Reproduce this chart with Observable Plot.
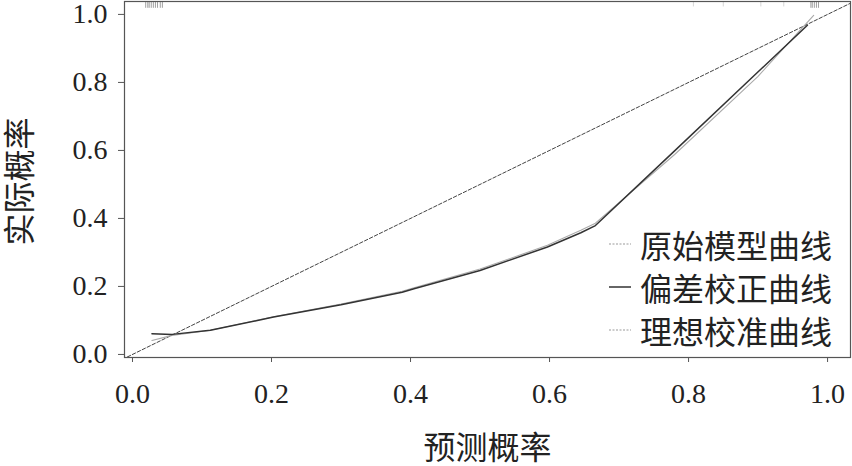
<!DOCTYPE html>
<html>
<head>
<meta charset="utf-8">
<script src="https://cdn.jsdelivr.net/npm/d3@7"></script>
<script src="https://cdn.jsdelivr.net/npm/@observablehq/plot@0.6"></script>
<style>
  html, body { margin: 0; padding: 0; background: #fff; }
  #wrap { position: relative; width: 852px; height: 466px; }
  #wrap svg text { font-family: "Liberation Serif", "Noto Sans CJK SC", serif; }
  #legend { position: absolute; left: 608px; top: 222px; font-family: "Liberation Serif", "Noto Sans CJK SC", serif; font-size: 32px; color: #222; }
  #legend .row { display: flex; align-items: center; height: 43px; }
  #legend svg { margin-right: 8px; }
</style>
</head>
<body>
<div id="wrap"><div id="legend"></div></div>
<script>
// Tick values
const ticks = [0, 0.2, 0.4, 0.6, 0.8, 1.0];

// Bias-corrected calibration curve (偏差校正曲线)
const biasX = [0.028, 0.057, 0.112, 0.203, 0.300, 0.388, 0.405, 0.500, 0.597, 0.645, 0.666, 0.778, 0.899, 0.971];
const biasY = [0.061, 0.059, 0.071, 0.110, 0.146, 0.183, 0.193, 0.247, 0.316, 0.358, 0.379, 0.595, 0.829, 0.968];

// Apparent (original model) curve (原始模型曲线)
const appX = [0.028, 0.057, 0.112, 0.203, 0.300, 0.388, 0.405, 0.500, 0.597, 0.645, 0.666, 0.780, 0.900, 0.980];
const appY = [0.041, 0.056, 0.071, 0.111, 0.148, 0.186, 0.196, 0.251, 0.321, 0.365, 0.386, 0.588, 0.818, 0.997];

// Ideal line endpoints
const idealX = [-0.05, 1.06];
const idealY = [-0.05, 1.06];

// Rug of predicted probabilities at the top
const rugDense = [0.019, 0.022, 0.024, 0.027, 0.030, 0.033, 0.036, 0.040, 0.043, 0.976, 0.978, 0.981, 0.984, 0.987];
const rugFaint = [0.807, 0.850, 0.904, 0.937];

const legendLabels = ["原始模型曲线", "偏差校正曲线", "理想校准曲线"];

const bias = biasX.map((x, i) => ({x, y: biasY[i]}));
const app = appX.map((x, i) => ({x, y: appY[i]}));
const ideal = idealX.map((x, i) => ({x, y: idealY[i]}));

const font = '"Liberation Serif", "Noto Sans CJK SC", serif';

const chart = Plot.plot({
  width: 852,
  height: 466,
  marginLeft: 124,
  marginRight: 2,
  marginTop: 1,
  marginBottom: 109,
  style: {fontFamily: font, background: "#fff", color: "#222", overflow: "visible"},
  x: {domain: [-0.0115, 1.033]},
  y: {domain: [-0.009, 1.038]},
  marks: [
    Plot.line(ideal, {x: "x", y: "y", stroke: "#444", strokeWidth: 1, strokeDasharray: "3.5,2", clip: true}),
    Plot.line(app, {x: "x", y: "y", stroke: "#aaa", strokeWidth: 1.1}),
    Plot.line(bias, {x: "x", y: "y", stroke: "#333", strokeWidth: 1.5}),
    Plot.ruleX(rugDense, {x: d => d, y1: 1.038, y2: 1.018, stroke: "#888", strokeWidth: 0.8}),
    Plot.ruleX(rugFaint, {x: d => d, y1: 1.038, y2: 1.022, stroke: "#ccc", strokeWidth: 0.8}),
    Plot.frame({stroke: "#555", strokeWidth: 1.2}),
    Plot.axisX({ticks, tickFormat: d3.format(".1f"), tickSize: 5, tickPadding: 21, fontSize: 28, fontFamily: font, stroke: "#555", color: "#222", label: null}),
    Plot.axisY({ticks, tickFormat: d3.format(".1f"), tickSize: 6, tickPadding: 11, fontSize: 28, fontFamily: font, stroke: "#555", color: "#222", label: null}),
    Plot.text(["预测概率"], {text: d => d, frameAnchor: "bottom", lineAnchor: "middle", textAnchor: "middle", dy: 91, fontSize: 32, fontFamily: font, fill: "#222"}),
    Plot.text(["实际概率"], {text: d => d, frameAnchor: "left", lineAnchor: "middle", textAnchor: "middle", dx: -104, dy: 2, rotate: -90, fontSize: 32, fontFamily: font, fill: "#222"})
  ]
});
document.getElementById("wrap").prepend(chart);

// Legend
const styles = [
  {stroke: "#999", dash: "2,1.5", w: 1},
  {stroke: "#333", dash: null, w: 1.5},
  {stroke: "#999", dash: "2,1.5", w: 1}
];
const lg = document.getElementById("legend");
legendLabels.forEach((t, i) => {
  const row = document.createElement("div");
  row.className = "row";
  const s = styles[i];
  row.innerHTML = `<svg width="24" height="10"><line x1="1" y1="5" x2="23" y2="5" stroke="${s.stroke}" stroke-width="${s.w}" ${s.dash ? `stroke-dasharray="${s.dash}"` : ""}/></svg><span>${t}</span>`;
  lg.appendChild(row);
});
</script>
</body>
</html>
